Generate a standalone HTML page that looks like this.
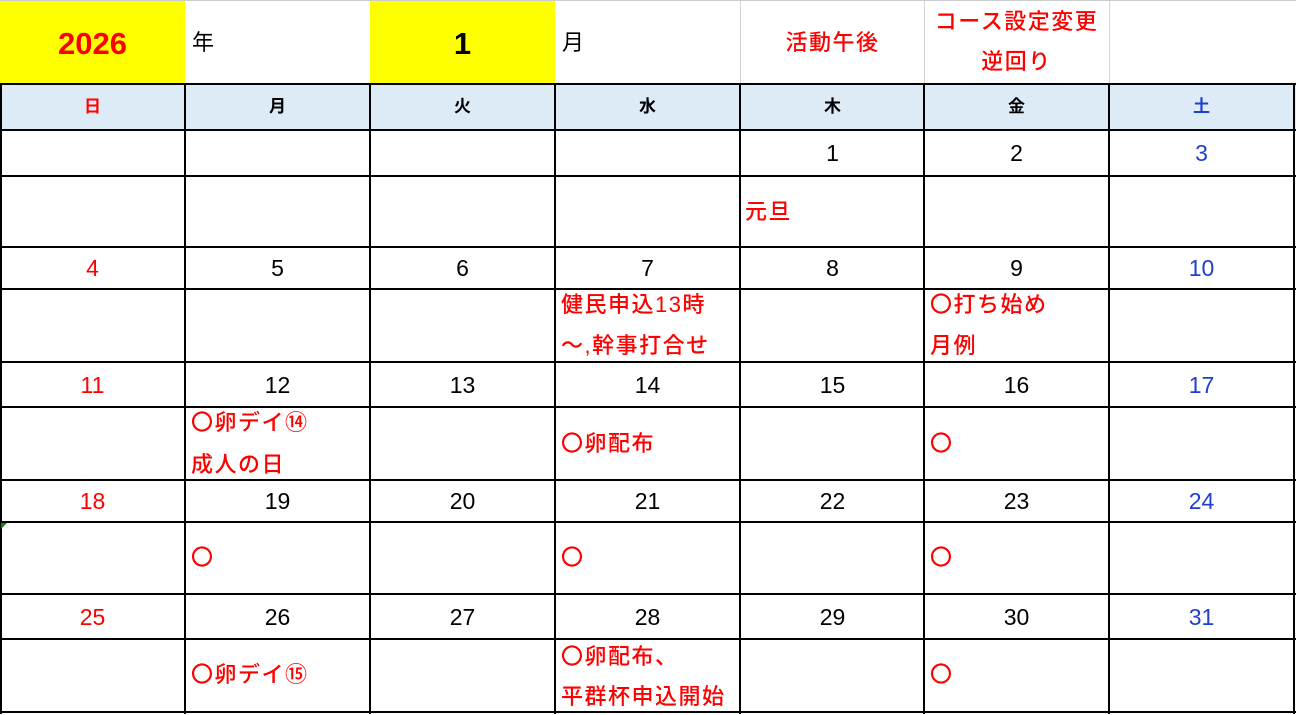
<!DOCTYPE html>
<html><head><meta charset="utf-8"><style>
body{margin:0;width:1296px;height:715px;background:#fff;overflow:hidden;position:relative;font-family:"Liberation Sans","Noto Sans CJK JP",sans-serif}
div{position:absolute}
.h{height:2px;background:#000;left:0;width:1296px}
.v{width:2px;background:#000;top:84px;height:630px}
.g{width:1px;background:#d4d4d4;top:0;height:84px}
.t{white-space:nowrap;line-height:1}
.c{text-align:center;width:185px}
.n{font-size:23px;color:#000}
.r{color:#ff0000}
.b{color:#1f3fd0}
.e{font-size:22px;color:#ff0000;font-weight:500;letter-spacing:1.5px}
.w{font-size:17px;font-weight:bold}
</style></head><body>
<div style="left:0;top:0;width:185px;height:84px;background:#ffff00"></div>
<div style="left:370px;top:0;width:185px;height:84px;background:#ffff00"></div>
<div style="left:0;top:84px;width:1296px;height:46px;background:#ddebf7"></div>
<div class="g" style="left:740px"></div><div class="g" style="left:924px"></div><div class="g" style="left:1109px"></div>
<div class="h" style="top:0;height:1px;background:#ccc"></div>
<div class="h" style="top:83px"></div><div class="h" style="top:129px"></div><div class="h" style="top:175px"></div>
<div class="h" style="top:246px"></div><div class="h" style="top:288px"></div><div class="h" style="top:361px"></div>
<div class="h" style="top:406px"></div><div class="h" style="top:479px"></div><div class="h" style="top:521px"></div>
<div class="h" style="top:593px"></div><div class="h" style="top:638px"></div><div class="h" style="top:711px"></div>
<div class="v" style="left:0"></div><div class="v" style="left:184px"></div><div class="v" style="left:369px"></div>
<div class="v" style="left:554px"></div><div class="v" style="left:739px"></div><div class="v" style="left:923px"></div>
<div class="v" style="left:1108px"></div><div class="v" style="left:1293px"></div>
<div style="left:1px;top:523px;width:0;height:0;border-top:6px solid #0a8a0a;border-right:6px solid transparent"></div>

<div class="t c r" style="left:0;top:28px;font-size:31px;font-weight:bold">2026</div>
<div class="t" style="left:192px;top:32px;font-size:22px">年</div>
<div class="t c" style="left:370px;top:28px;font-size:31px;font-weight:bold">1</div>
<div class="t" style="left:562px;top:32px;font-size:22px">月</div>
<div class="t c r" style="left:740px;top:32px;font-size:22px;font-weight:500;letter-spacing:1.5px">活動午後</div>
<div class="t c r" style="left:924px;top:11px;font-size:22px;font-weight:500;letter-spacing:1.5px">コース設定変更</div>
<div class="t c r" style="left:924px;top:51px;font-size:22px;font-weight:500;letter-spacing:1.5px">逆回り</div>

<div class="t c w r" style="left:0;top:98px">日</div>
<div class="t c w" style="left:185px;top:98px">月</div>
<div class="t c w" style="left:370px;top:98px">火</div>
<div class="t c w" style="left:555px;top:98px">水</div>
<div class="t c w" style="left:740px;top:98px">木</div>
<div class="t c w" style="left:924px;top:98px">金</div>
<div class="t c w b" style="left:1109px;top:98px">土</div>

<div class="t c n" style="left:740px;top:142px">1</div>
<div class="t c n" style="left:924px;top:142px">2</div>
<div class="t c n b" style="left:1109px;top:142px">3</div>
<div class="t e" style="left:745px;top:201px">元旦</div>

<div class="t c n r" style="left:0;top:257px">4</div>
<div class="t c n" style="left:185px;top:257px">5</div>
<div class="t c n" style="left:370px;top:257px">6</div>
<div class="t c n" style="left:555px;top:257px">7</div>
<div class="t c n" style="left:740px;top:257px">8</div>
<div class="t c n" style="left:924px;top:257px">9</div>
<div class="t c n b" style="left:1109px;top:257px">10</div>
<div class="t e" style="left:561px;top:294px">健民申込13時</div>
<div class="t e" style="left:561px;top:335px">～,幹事打合せ</div>
<div class="t e" style="left:930px;top:294px">〇打ち始め</div>
<div class="t e" style="left:930px;top:335px">月例</div>

<div class="t c n r" style="left:0;top:374px">11</div>
<div class="t c n" style="left:185px;top:374px">12</div>
<div class="t c n" style="left:370px;top:374px">13</div>
<div class="t c n" style="left:555px;top:374px">14</div>
<div class="t c n" style="left:740px;top:374px">15</div>
<div class="t c n" style="left:924px;top:374px">16</div>
<div class="t c n b" style="left:1109px;top:374px">17</div>
<div class="t e" style="left:191px;top:412px">〇卵デイ⑭</div>
<div class="t e" style="left:191px;top:454px">成人の日</div>
<div class="t e" style="left:561px;top:433px">〇卵配布</div>
<div class="t e" style="left:930px;top:433px">〇</div>

<div class="t c n r" style="left:0;top:490px">18</div>
<div class="t c n" style="left:185px;top:490px">19</div>
<div class="t c n" style="left:370px;top:490px">20</div>
<div class="t c n" style="left:555px;top:490px">21</div>
<div class="t c n" style="left:740px;top:490px">22</div>
<div class="t c n" style="left:924px;top:490px">23</div>
<div class="t c n b" style="left:1109px;top:490px">24</div>
<div class="t e" style="left:191px;top:547px">〇</div>
<div class="t e" style="left:561px;top:547px">〇</div>
<div class="t e" style="left:930px;top:547px">〇</div>

<div class="t c n r" style="left:0;top:606px">25</div>
<div class="t c n" style="left:185px;top:606px">26</div>
<div class="t c n" style="left:370px;top:606px">27</div>
<div class="t c n" style="left:555px;top:606px">28</div>
<div class="t c n" style="left:740px;top:606px">29</div>
<div class="t c n" style="left:924px;top:606px">30</div>
<div class="t c n b" style="left:1109px;top:606px">31</div>
<div class="t e" style="left:191px;top:664px">〇卵デイ⑮</div>
<div class="t e" style="left:561px;top:646px">〇卵配布、</div>
<div class="t e" style="left:561px;top:686px">平群杯申込開始</div>
<div class="t e" style="left:930px;top:664px">〇</div>
</body></html>
